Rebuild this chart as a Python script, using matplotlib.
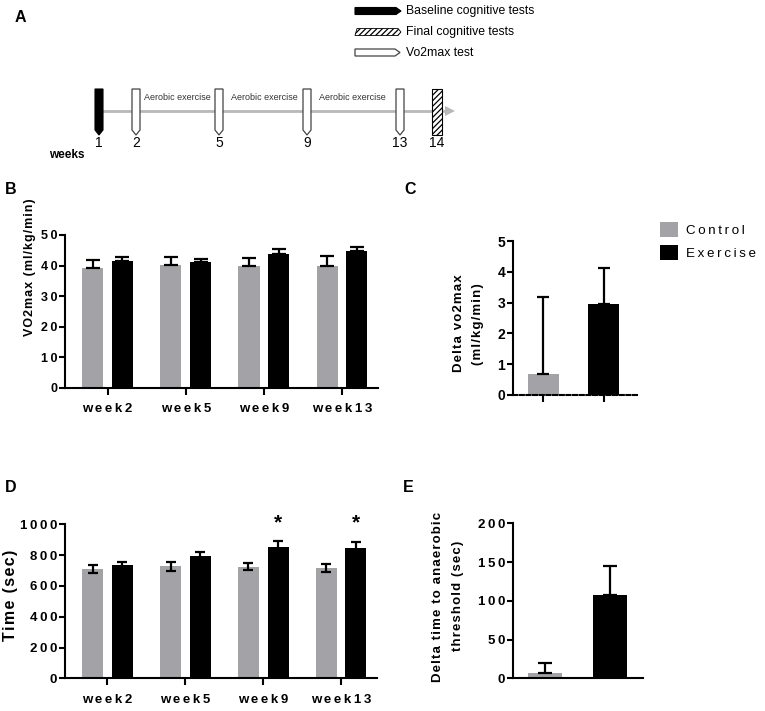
import numpy as np
import matplotlib
matplotlib.use("Agg")
import matplotlib.pyplot as plt
from matplotlib.patches import Polygon, Rectangle

plt.rcParams['font.family'] = ['Liberation Sans', 'DejaVu Sans']
plt.rcParams['hatch.linewidth'] = 0.9

# ---- data ----
weeks = ['week2', 'week5', 'week9', 'week13']
vo2_ctrl = [39.2, 40.2, 40.0, 39.8]
vo2_ctrl_err = [2.5, 2.7, 2.6, 3.3]
vo2_ex = [41.5, 41.2, 43.8, 44.7]
vo2_ex_err = [1.2, 1.1, 1.6, 1.3]

groups = ['Control', 'Exercise']
delta_vo2 = [0.67, 2.94]
delta_vo2_err = [2.52, 1.19]

time_ctrl = [712, 727, 724, 716]
time_ctrl_err = [25, 28, 22, 28]
time_ex = [736, 796, 854, 845]
time_ex_err = [20, 21, 36, 38]
signif = [False, False, True, True]

delta_time = [6.5, 107.5]
delta_time_err = [13.5, 37.5]

tl_weeks = ['1', '2', '5', '9', '13', '14']
tl_kind = ['baseline', 'vo2', 'vo2', 'vo2', 'vo2', 'final']
phases = ['Aerobic exercise', 'Aerobic exercise', 'Aerobic exercise']
legend_a = ['Baseline cognitive tests', 'Final cognitive tests', 'Vo2max test']

GREY = '#a3a3a7'
W, H = 765, 711
HS = '\u200a'   # hair space
TS = '\u2009'   # thin space


def fx(px):
    return px / W


def fy(py):
    return 1 - py / H


def sp(s, sep=HS):
    return sep.join(s)


def style(ax, ysize=9):
    for s in ['top', 'right']:
        ax.spines[s].set_visible(False)
    ax.spines['left'].set_linewidth(1.5)
    ax.spines['bottom'].set_linewidth(1.5)
    ax.tick_params(axis='y', length=4, width=1.5, pad=1.5, labelsize=ysize)
    ax.tick_params(axis='x', length=5, width=1.5, pad=6, labelsize=9.5)
    for lab in ax.get_xticklabels() + ax.get_yticklabels():
        lab.set_fontweight('bold')


fig = plt.figure(figsize=(W / 100, H / 100), dpi=100)

# ---------------- panel A : study timeline ----------------
ax0 = fig.add_axes([0, fy(170), 1, 170 / H])
ax0.set_xlim(0, W)
ax0.set_ylim(170, 0)
ax0.axis('off')

tl_x = [99, 136, 219, 307, 400, 437]
ax0.plot([103, 446], [111, 111], color='#b8b8b8', lw=2, zorder=1)
ax0.add_patch(Polygon([(445, 106), (455, 111), (445, 116)], closed=True,
                      fc='#b8b8b8', ec='none', zorder=1))
for xc, lab, kind in zip(tl_x, tl_weeks, tl_kind):
    top, bot = 89, 135
    if kind == 'final':
        p = Rectangle((xc - 5, top), 10, bot - top, fc='white', ec='black',
                      hatch='//////', lw=0.8, zorder=3)
    else:
        pts = [(xc - 4, top), (xc + 4, top), (xc + 4, bot - 5), (xc, bot), (xc - 4, bot - 5)]
        if kind == 'baseline':
            p = Polygon(pts, closed=True, fc='black', ec='black', lw=0.8, zorder=3)
        else:
            p = Polygon(pts, closed=True, fc='white', ec='#444444', lw=0.9, zorder=3)
    ax0.add_patch(p)
    ax0.text(xc, 143, lab, ha='center', va='center', fontsize=10)

for xc, lab in zip([177, 264, 352], phases):
    ax0.text(xc, 97, lab, ha='center', va='center', fontsize=6.5, color='#333333')
ax0.text(67, 155, 'weeks', ha='center', va='center', fontsize=8.5, fontweight='bold')

# legend of panel A
ax0.add_patch(Polygon([(355, 7.5), (396, 7.5), (401, 11), (396, 14.5), (355, 14.5)],
                      closed=True, fc='black', ec='black', lw=0.8))
ax0.add_patch(Polygon([(357, 28.5), (398, 28.5), (401, 32), (398, 35.5), (355, 35.5)],
                      closed=True, fc='white', ec='black', hatch='//////', lw=0.6))
ax0.add_patch(Polygon([(355, 49), (395, 49), (400, 52.5), (395, 56), (355, 56)],
                      closed=True, fc='white', ec='#444444', lw=0.9))
for yy, lab in zip([11, 32, 52.5], legend_a):
    ax0.text(406, yy, lab, ha='left', va='center', fontsize=8.8)

# ---------------- panel B ----------------
x = np.arange(len(weeks))
off, bw = 0.19, 0.27
axb = fig.add_axes([fx(65), fy(388), 313 / W, 153 / H])
axb.bar(x - off, vo2_ctrl, bw, color=GREY, zorder=2)
axb.bar(x + off, vo2_ex, bw, color='black', zorder=2)
axb.errorbar(x - off, vo2_ctrl, yerr=[[0] * 4, vo2_ctrl_err], fmt='none', ecolor='black',
             elinewidth=1.6, capsize=4.7, capthick=1.6, zorder=3)
axb.errorbar(x + off, vo2_ex, yerr=[[0] * 4, vo2_ex_err], fmt='none', ecolor='black',
             elinewidth=1.6, capsize=4.7, capthick=1.6, zorder=3)
axb.set_xlim(-0.545, 3.46)
axb.set_ylim(0, 50)
axb.set_yticks(range(0, 51, 10))
axb.set_yticklabels([sp(str(v), TS) for v in range(0, 51, 10)])
axb.set_xticks(x)
axb.set_xticklabels([sp(w, TS) for w in weeks])
style(axb, 9)
fig.text(fx(30), fy(267), sp('VO2max (ml/kg/min)'), rotation=90, ha='center', va='center',
         fontsize=9, fontweight='bold')

# ---------------- panel C ----------------
xc2 = np.arange(2)
axc = fig.add_axes([fx(513), fy(395), 124 / W, 154 / H])
axc.bar(xc2, delta_vo2, 0.51, color=[GREY, 'black'], zorder=2)
axc.errorbar(xc2, delta_vo2, yerr=[[0, 0], delta_vo2_err], fmt='none', ecolor='black',
             elinewidth=1.6, capsize=4.5, capthick=1.6, zorder=3)
axc.set_xlim(-0.5, 1.55)
axc.set_ylim(0, 5)
axc.set_yticks(range(0, 6))
axc.set_xticks(xc2)
axc.set_xticklabels(['', ''])
style(axc, 10)
axc.spines['bottom'].set_linestyle((0, (2, 1.2)))
fig.text(fx(459), fy(323), sp('Delta vo2max'), rotation=90, ha='center', va='center',
         fontsize=9.5, fontweight='bold')
fig.text(fx(478), fy(324), sp('(ml/kg/min)'), rotation=90, ha='center', va='center',
         fontsize=9.5, fontweight='bold')
handles = [Rectangle((0, 0), 1, 1, fc=GREY), Rectangle((0, 0), 1, 1, fc='black')]
fig.legend(handles, [sp(g, TS) for g in groups], loc='upper left',
           bbox_to_anchor=(fx(648), fy(210)), frameon=False, fontsize=9.6,
           handlelength=1.35, handleheight=1.35, handletextpad=0.6, labelspacing=0.6)

# ---------------- panel D ----------------
axd = fig.add_axes([fx(65), fy(678.3), 312 / W, 154 / H])
axd.bar(x - off, time_ctrl, bw, color=GREY, zorder=2)
axd.bar(x + off, time_ex, bw, color='black', zorder=2)
axd.errorbar(x - off, time_ctrl, yerr=time_ctrl_err, fmt='none', ecolor='black',
             elinewidth=1.6, capsize=3.6, capthick=1.6, zorder=3)
axd.errorbar(x + off, time_ex, yerr=time_ex_err, fmt='none', ecolor='black',
             elinewidth=1.6, capsize=3.6, capthick=1.6, zorder=3)
for xi, s in zip(x, signif):
    if s:
        axd.text(xi + off, 1010, '*', ha='center', va='center', fontsize=15,
                 fontweight='bold', clip_on=False)
axd.set_xlim(-0.545, 3.46)
axd.set_ylim(0, 1000)
axd.set_yticks(range(0, 1001, 200))
axd.set_yticklabels([sp(str(v), TS) for v in range(0, 1001, 200)])
axd.set_xticks(x)
axd.set_xticklabels([sp(w, TS) for w in weeks])
style(axd, 9.5)
fig.text(fx(11), fy(595), sp('Time (sec)'), rotation=90, ha='center', va='center',
         fontsize=11.5, fontweight='bold')

# ---------------- panel E ----------------
axe = fig.add_axes([fx(513), fy(678.3), 130 / W, 155 / H])
axe.bar(xc2, delta_time, 0.52, color=[GREY, 'black'], zorder=2)
axe.errorbar(xc2, delta_time, yerr=[[0, 0], delta_time_err], fmt='none', ecolor='black',
             elinewidth=1.6, capsize=5, capthick=1.6, zorder=3)
axe.set_xlim(-0.49, 1.5)
axe.set_ylim(0, 200)
axe.set_yticks(range(0, 201, 50))
axe.set_yticklabels([sp(str(v), TS) for v in range(0, 201, 50)])
axe.set_xticks([])
style(axe, 9.5)
fig.text(fx(438), fy(597), sp('Delta time to anaerobic'), rotation=90, ha='center',
         va='center', fontsize=9.5, fontweight='bold')
fig.text(fx(458), fy(596), sp('threshold (sec)'), rotation=90, ha='center',
         va='center', fontsize=9.5, fontweight='bold')

# panel letters
for lab, px, py in [('A', 20, 17), ('B', 11, 190), ('C', 410, 190), ('D', 11, 488), ('E', 408, 487)]:
    fig.text(fx(px), fy(py), lab, ha='center', va='center', fontsize=11.5, fontweight='bold')

fig.savefig('out.png', dpi=100)
